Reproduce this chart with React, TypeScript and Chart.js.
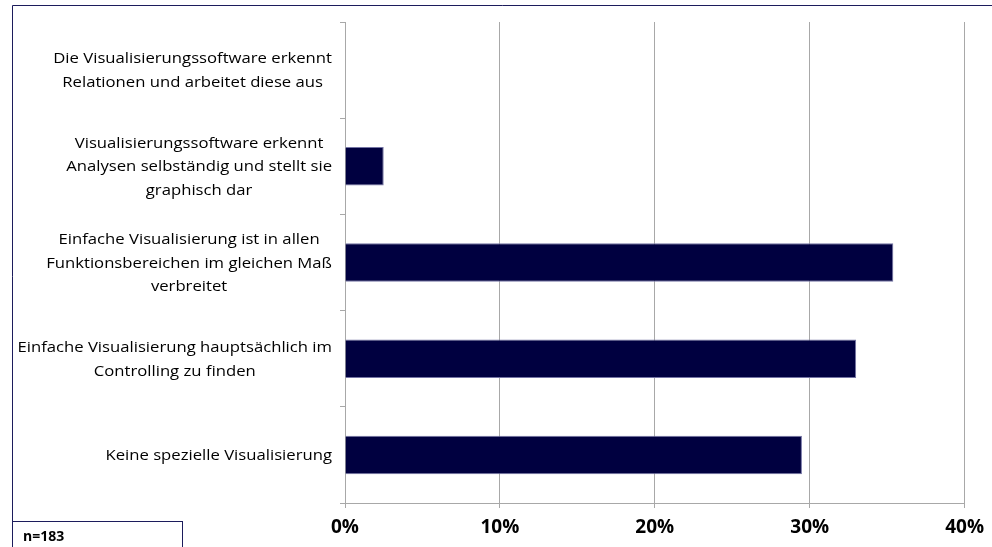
import React, { useEffect, useRef } from "react";
import { Chart, registerables } from "chart.js";

Chart.register(...registerables);

const categories: string[][] = [
  ["Die Visualisierungssoftware erkennt", "Relationen und arbeitet diese aus"],
  ["Visualisierungssoftware erkennt", "Analysen selbständig und stellt sie", "graphisch dar"],
  ["Einfache Visualisierung ist in allen", "Funktionsbereichen im gleichen Maß", "verbreitet"],
  ["Einfache Visualisierung hauptsächlich im", "Controlling zu finden"],
  ["Keine spezielle Visualisierung"],
];
const values: number[] = [0, 2.5, 35.4, 33.0, 29.5];
const xTickValues: number[] = [0, 10, 20, 30, 40];
const sampleNote = "n=183";

const FONT = "'Open Sans', 'Noto Sans', sans-serif";
const NAVY_LINE = "#1c1c5c";
const GRID = "#a8a8a8";

const decorPlugin = {
  id: "decor",
  beforeDraw(chart: any) {
    const ctx = chart.ctx;
    ctx.save();
    ctx.fillStyle = "#ffffff";
    ctx.fillRect(0, 0, chart.width, chart.height);
    ctx.strokeStyle = NAVY_LINE;
    ctx.lineWidth = 1;
    ctx.beginPath();
    ctx.moveTo(12.5, chart.height);
    ctx.lineTo(12.5, 5.5);
    ctx.lineTo(chart.width, 5.5);
    ctx.stroke();
    ctx.restore();
  },
  afterDraw(chart: any) {
    const ctx = chart.ctx;
    const yScale = chart.scales.y;
    const rightEdge = chart.chartArea.left - 13;
    const sx = 1.15;
    ctx.save();
    ctx.font = `14.5px ${FONT}`;
    ctx.fillStyle = "#000000";
    ctx.textAlign = "center";
    ctx.textBaseline = "middle";
    const lh = 23.5;
    categories.forEach((lines, i) => {
      const cy = yScale.getPixelForValue(i);
      const widest = Math.max(...lines.map((l) => ctx.measureText(l).width)) * sx;
      const cx = rightEdge - widest / 2;
      lines.forEach((l, j) => {
        ctx.save();
        ctx.translate(cx, cy + (j - (lines.length - 1) / 2) * lh + 1);
        ctx.scale(sx, 1);
        ctx.fillText(l, 0, 0);
        ctx.restore();
      });
    });
    ctx.strokeStyle = NAVY_LINE;
    ctx.lineWidth = 1;
    ctx.strokeRect(12.5, 521.5, 170, 40);
    ctx.font = `bold 14px ${FONT}`;
    ctx.textAlign = "left";
    ctx.textBaseline = "alphabetic";
    ctx.fillText(sampleNote, 23, 541);
    ctx.restore();
  },
};

export default function App() {
  const ref = useRef<HTMLCanvasElement | null>(null);
  useEffect(() => {
    if (!ref.current) return;
    const chart = new Chart(ref.current, {
      type: "bar",
      data: {
        labels: categories.map((c) => c.join(" ")),
        datasets: [
          {
            data: values,
            backgroundColor: "#000040",
            borderColor: "#7474a4",
            borderWidth: 1,
            barPercentage: 0.4,
            categoryPercentage: 1,
          },
        ],
      },
      options: {
        indexAxis: "y",
        responsive: false,
        animation: false,
        layout: { padding: { left: 0, top: 22, right: 26, bottom: 0 } },
        plugins: { legend: { display: false }, tooltip: { enabled: false } },
        scales: {
          x: {
            min: 0,
            max: 40,
            position: "bottom",
            afterBuildTicks: (s: any) => {
              s.ticks = xTickValues.map((v) => ({ value: v }));
            },
            ticks: {
              callback: (v: any) => `${v}%`,
              color: "#000000",
              font: { family: FONT, size: 19, weight: "bold" },
              padding: 8,
              maxRotation: 0,
            },
            grid: { color: GRID, tickLength: 5, drawTicks: true },
            border: { color: GRID },
            afterFit: (s: any) => {
              s.height = 44;
            },
          },
          y: {
            ticks: { display: false },
            grid: { drawOnChartArea: false, tickLength: 5, color: GRID, offset: true },
            border: { color: GRID },
            afterFit: (s: any) => {
              s.width = 345;
            },
          },
        },
      },
      plugins: [decorPlugin],
    } as any);
    return () => chart.destroy();
  }, []);
  return (
    <div style={{ position: "absolute", left: 0, top: 0, width: 992, height: 547 }}>
      <canvas ref={ref} width={992} height={547} style={{ display: "block" }} />
    </div>
  );
}
